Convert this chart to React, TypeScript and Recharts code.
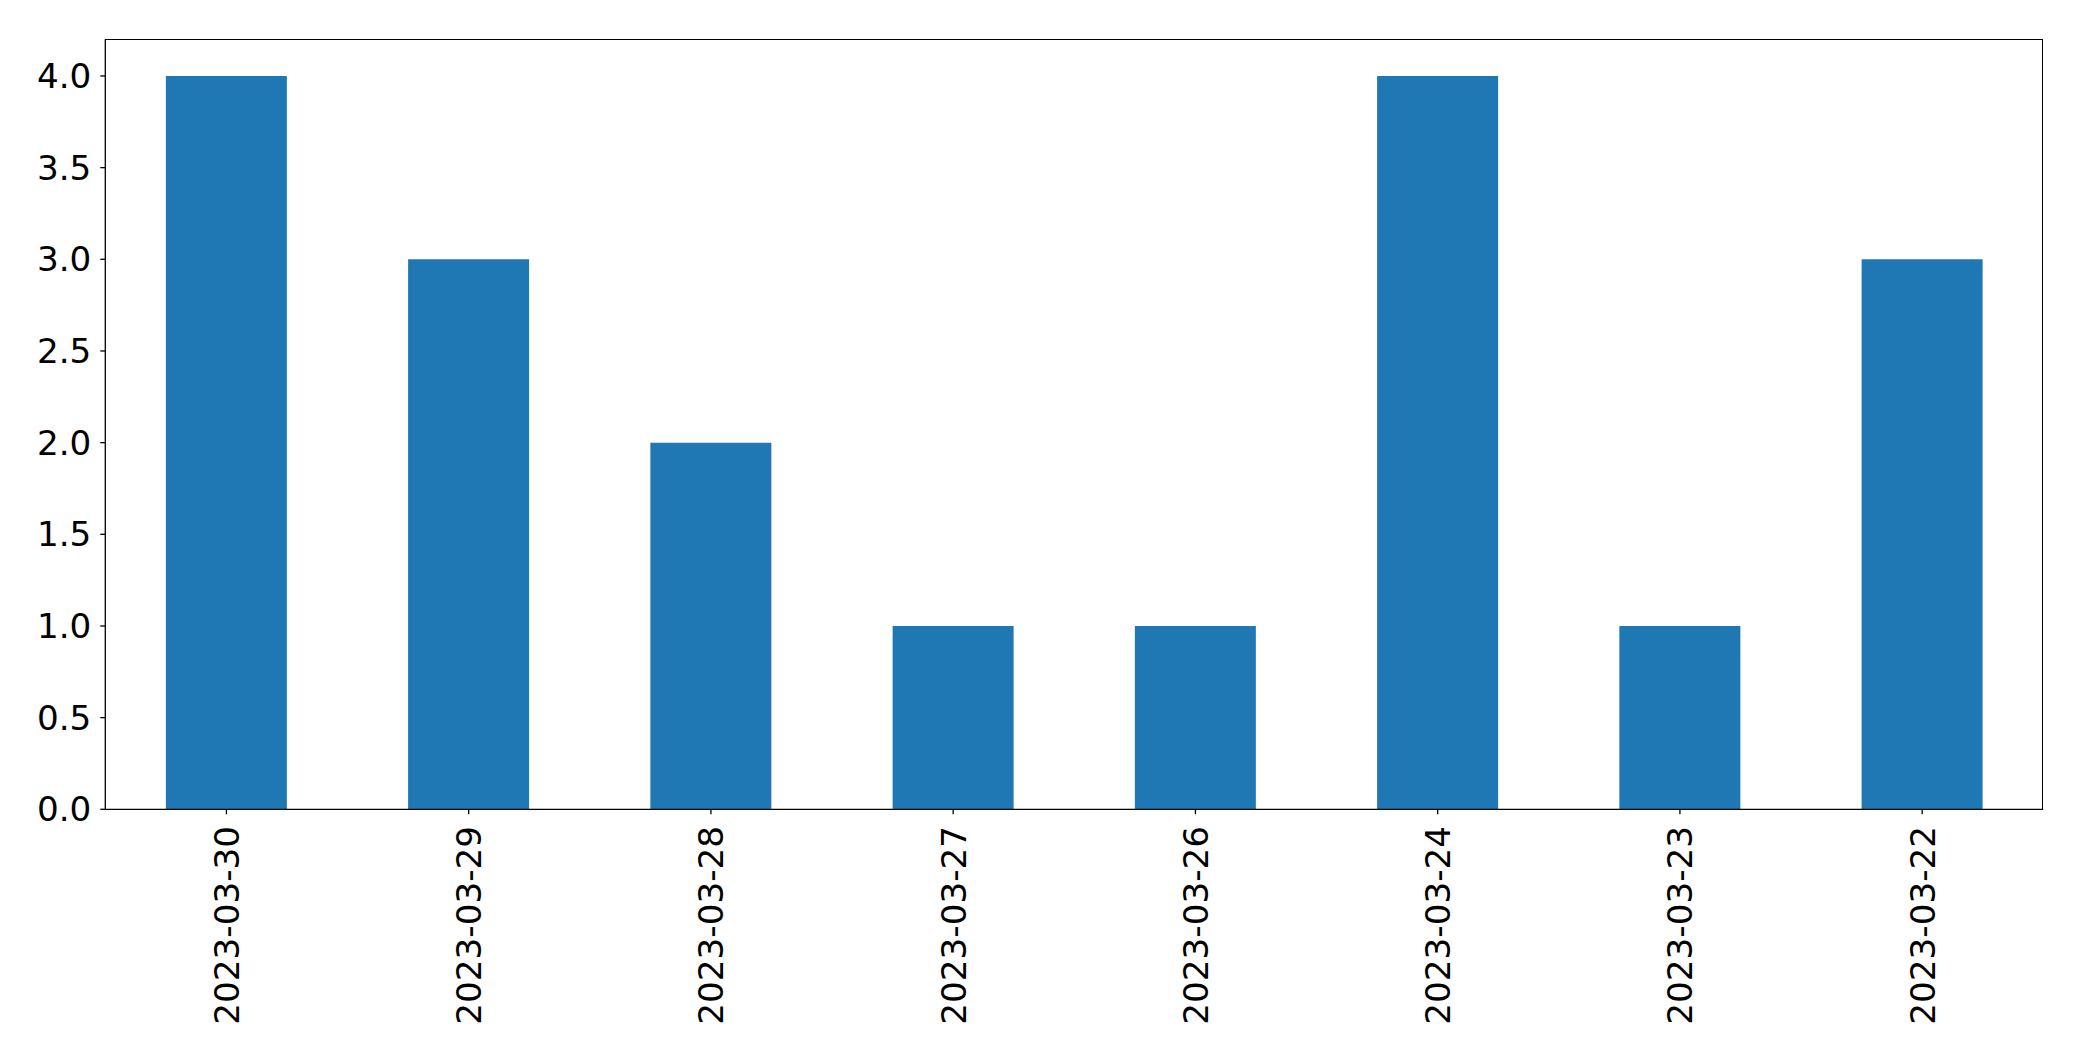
import { BarChart, Bar, XAxis, YAxis } from "recharts";

const dates = ["2023-03-30", "2023-03-29", "2023-03-28", "2023-03-27", "2023-03-26", "2023-03-24", "2023-03-23", "2023-03-22"];
const counts = [4, 3, 2, 1, 1, 4, 1, 3];
const yTicks = [0, 0.5, 1, 1.5, 2, 2.5, 3, 3.5, 4];

const data = dates.map((d, i) => ({ date: d, value: counts[i] }));

const FONT = "'DejaVu Sans', sans-serif";

function DateTick(props: any) {
  const { x, y, payload } = props;
  return (
    <g transform={`translate(${x},${y})`}>
      <text transform="rotate(-90)" textAnchor="end" dy="0.365em" fontSize={34.2} fontFamily={FONT} fill="#000">
        {payload.value}
      </text>
    </g>
  );
}

export default function App() {
  return (
    <div style={{ position: "absolute", left: 0, top: 0, width: 2082, height: 1061, background: "#fff" }}>
      <BarChart
        width={2082}
        height={1061}
        data={data}
        barCategoryGap="25%"
        margin={{ top: 39.3, right: 38.7, bottom: 0, left: 5.3 }}
      >
        <XAxis
          dataKey="date"
          height={251.7}
          interval={0}
          tickSize={5}
          tickMargin={11.7}
          tick={<DateTick />}
          tickLine={{ stroke: "#000", strokeWidth: 1.3 }}
          axisLine={{ stroke: "#000", strokeWidth: 1.3 }}
        />
        <YAxis
          width={100}
          domain={[0, 4.2]}
          ticks={yTicks}
          interval={0}
          tickSize={5}
          tickMargin={9}
          tickFormatter={(v: number) => v.toFixed(1)}
          tick={{ fill: "#000", fontSize: 34.2, fontFamily: FONT }}
          tickLine={{ stroke: "#000", strokeWidth: 1.3 }}
          axisLine={{ stroke: "#000", strokeWidth: 1.3 }}
        />
        <Bar dataKey="value" fill="#1f77b4" isAnimationActive={false} />
      </BarChart>
      {/* top and right spines */}
      <div
        style={{
          position: "absolute",
          left: 104.65,
          top: 38.65,
          width: 1938.65,
          height: 770,
          borderTop: "1.3px solid #000",
          borderRight: "1.3px solid #000",
          boxSizing: "border-box",
          pointerEvents: "none",
        }}
      />
    </div>
  );
}
